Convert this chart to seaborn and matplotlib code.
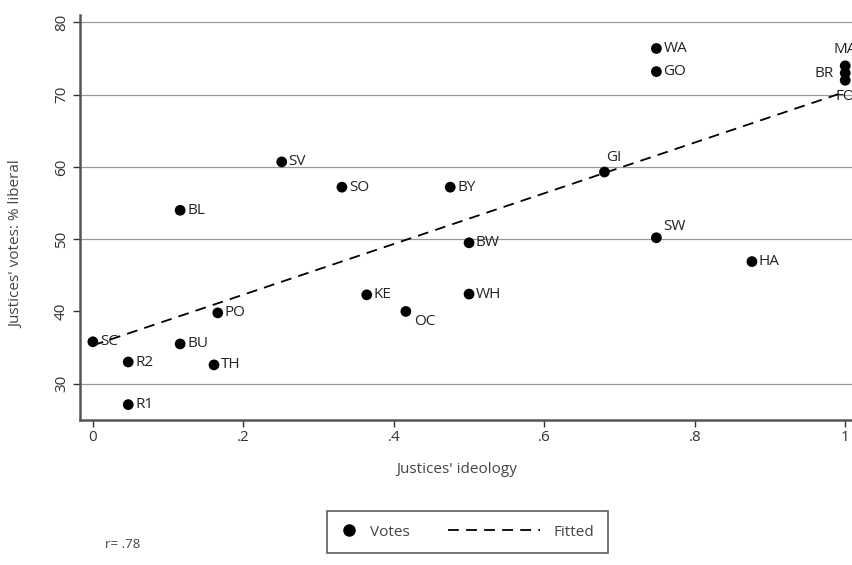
import pandas as pd
import matplotlib
matplotlib.use("Agg")
import matplotlib.pyplot as plt
import seaborn as sns
from matplotlib.lines import Line2D
from matplotlib.legend_handler import HandlerLine2D

# justices: ideology score vs % liberal votes
justices = ["SC", "R2", "R1", "BU", "TH", "PO", "BL", "SV", "SO", "BY", "BW",
            "KE", "WH", "OC", "GI", "SW", "HA", "WA", "GO", "MA", "BR", "FO"]
ideology = [0.0, 0.047, 0.047, 0.116, 0.161, 0.166, 0.116, 0.251, 0.331, 0.475, 0.5,
            0.364, 0.5, 0.416, 0.68, 0.749, 0.876, 0.749, 0.749, 1.0, 1.0, 1.0]
liberal = [35.8, 33.0, 27.1, 35.5, 32.6, 39.8, 54.0, 60.7, 57.2, 57.2, 49.5,
           42.3, 42.4, 40.0, 59.3, 50.2, 46.9, 76.4, 73.2, 74.0, 73.0, 72.0]

# fitted regression line
fit_x = [0.0, 1.0]
fit_y = [35.3, 70.4]

xticks = [0, 0.2, 0.4, 0.6, 0.8, 1.0]
xtick_labels = ["0", ".2", ".4", ".6", ".8", "1"]
yticks = [30, 40, 50, 60, 70, 80]
grid_levels = [30, 50, 60, 70, 80]

# label placement (offset in points, ha, va)
placement = {
    "GI": ((1, 5), "left", "bottom"),
    "SW": ((5, 3), "left", "bottom"),
    "MA": ((0, 6), "center", "bottom"),
    "BR": ((-8, 0), "right", "center"),
    "FO": ((0, -6), "center", "top"),
    "OC": ((6, -2), "left", "top"),
}

DASH = (0, (6, 4))


class LongDash(HandlerLine2D):
    # stretch the dashed sample to the left, into the column gap
    def create_artists(self, legend, orig_handle, xdescent, ydescent, width,
                       height, fontsize, trans):
        extra = 5.0 * fontsize
        return super().create_artists(legend, orig_handle, xdescent + extra,
                                      ydescent, width + extra, height,
                                      fontsize, trans)


df = pd.DataFrame({"justice": justices, "ideology": ideology, "liberal": liberal})
fit = pd.DataFrame({"x": fit_x, "y": fit_y})

sns.set_style("white")
plt.rcParams["font.family"] = ["Open Sans", "DejaVu Sans"]

fig = plt.figure(figsize=(8.52, 5.65), dpi=100)
ax = fig.add_axes([0.094, 0.257, 0.906, 0.716])

for lv in grid_levels:
    ax.axhline(lv, color="#9a9a9a", lw=0.9, zorder=0)

sns.lineplot(data=fit, x="x", y="y", ax=ax, color="black", lw=1.3,
             linestyle=DASH, zorder=2)
sns.scatterplot(data=df, x="ideology", y="liberal", ax=ax, color="black",
                s=60, edgecolor="none", zorder=3)

for name, xv, yv in zip(justices, ideology, liberal):
    off, ha, va = placement.get(name, ((5, 0), "left", "center"))
    ax.annotate(name, (xv, yv), xytext=off, textcoords="offset points",
                ha=ha, va=va, fontsize=11, color="#222222")

ax.set_xlim(-0.017, 1.009)
ax.set_ylim(25, 81)
ax.set_xticks(xticks)
ax.set_xticklabels(xtick_labels)
ax.set_yticks(yticks)
ax.set_yticklabels([str(v) for v in yticks], rotation=90, va="center")
ax.tick_params(axis="both", direction="out", length=5, width=1, color="#333333",
               labelsize=11, labelcolor="#333333", left=True, bottom=True)
ax.tick_params(axis="x", pad=2)
ax.tick_params(axis="y", pad=3)

for side in ["top", "right"]:
    ax.spines[side].set_visible(False)
for side in ["left", "bottom"]:
    ax.spines[side].set_color("#555555")
    ax.spines[side].set_linewidth(1.8)

ax.set_xlabel("Justices' ideology", fontsize=11, color="#444444")
ax.set_ylabel("Justices' votes: % liberal", fontsize=11, color="#444444")
ax.xaxis.set_label_coords(0.488, -0.105)
ax.yaxis.set_label_coords(-0.072, 0.435)

handles = [
    Line2D([], [], marker="o", color="black", linestyle="none", markersize=8),
    Line2D([], [], color="black", lw=1.3, linestyle=DASH),
]
leg = fig.legend(handles, ["Votes", "Fitted"], loc="center",
                 bbox_to_anchor=(0.549, 0.058), ncol=2, frameon=True,
                 fancybox=False, handlelength=1.0, columnspacing=7.5,
                 handletextpad=0.9, fontsize=11, borderpad=0.9,
                 handler_map={handles[1]: LongDash()})
leg.get_frame().set_edgecolor("#333333")
leg.get_frame().set_linewidth(1.2)
for t in leg.get_texts():
    t.set_color("#444444")

fig.text(0.123, 0.03, "r= .78", fontsize=9.5, color="#444444")

fig.savefig("out.png", dpi=100)
